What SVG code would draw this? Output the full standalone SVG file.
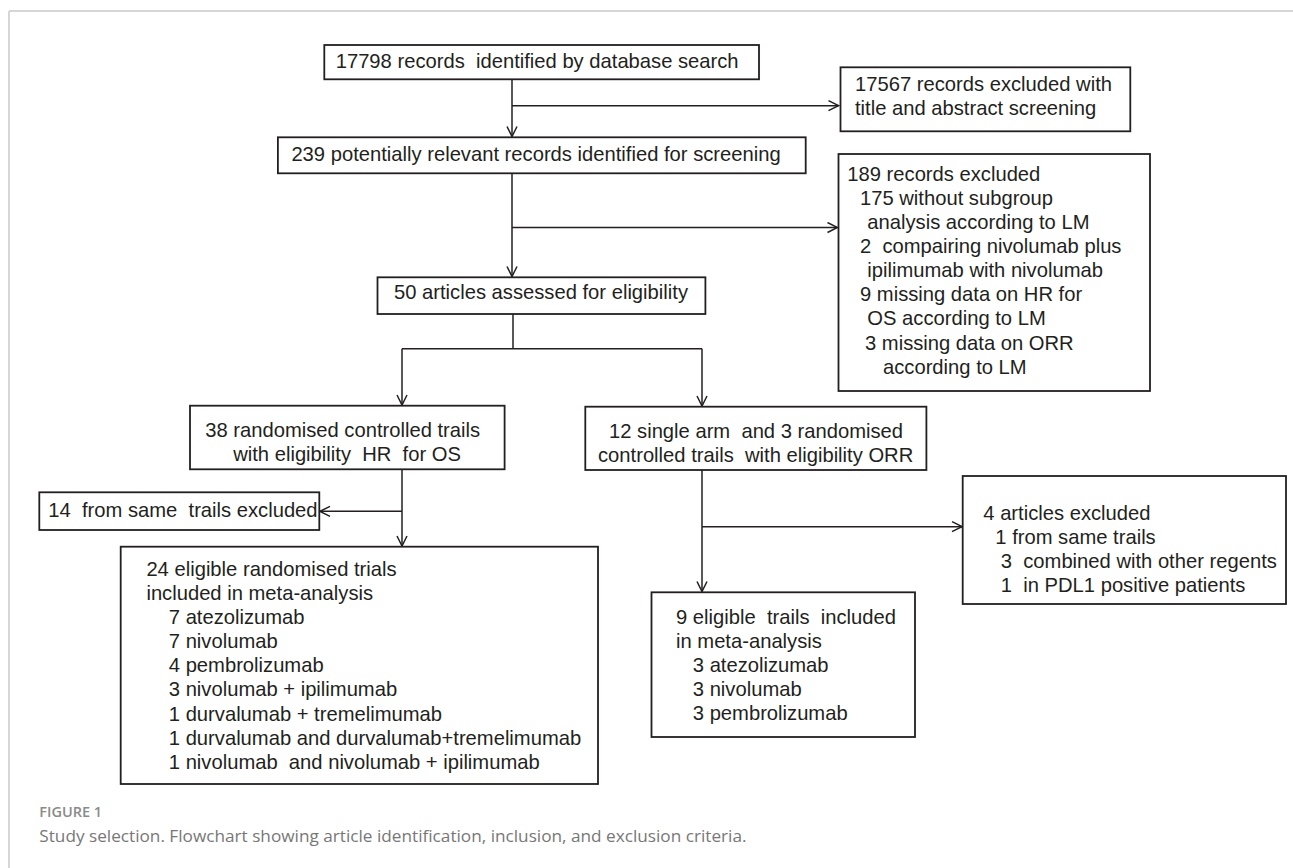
<svg xmlns="http://www.w3.org/2000/svg" width="1293" height="868" viewBox="0 0 1293 868">
<style>
.box{fill:#fff;stroke:#231f20;stroke-width:1.8}
.t{font-family:"Liberation Sans",Arial,sans-serif;font-size:20.2px;fill:#231f20}
.ln{fill:none;stroke:#231f20;stroke-width:1.5}
.arr{marker-end:url(#ah)}
.fig{font-family:"Open Sans","Liberation Sans",sans-serif;font-size:14.5px;font-weight:600;fill:#8a8a8a}
.cap{font-family:"Open Sans","Liberation Sans",sans-serif;font-size:17.2px;fill:#777}
</style>
<defs>
<marker id="ah" viewBox="0 0 12 12" refX="11" refY="6" markerWidth="12" markerHeight="12" markerUnits="userSpaceOnUse" orient="auto">
<path d="M1,1 L11,6 L1,11" fill="none" stroke="#231f20" stroke-width="1.5"/>
</marker>
</defs>
<rect width="1293" height="868" fill="#fff"/>
<g id="frame">
<line x1="9" y1="11" x2="1293" y2="11" stroke="#d6d6d6" stroke-width="2"/>
<line x1="9" y1="11" x2="9" y2="868" stroke="#d6d6d6" stroke-width="2"/>
</g>
<g id="connectors">
<path class="ln arr" d="M512,79 V136.5"/>
<path class="ln arr" d="M512,105.7 H838.5"/>
<path class="ln arr" d="M512,173.3 V276.5"/>
<path class="ln arr" d="M512,227.5 H837.5"/>
<path class="ln" d="M513,314 V348.8"/>
<path class="ln" d="M402,348.8 H702"/>
<path class="ln arr" d="M402,348.8 V405"/>
<path class="ln arr" d="M702,348.8 V406"/>
<path class="ln arr" d="M402,469.3 V546"/>
<path class="ln arr" d="M402,511.3 H320"/>
<path class="ln arr" d="M702,470 V591.5"/>
<path class="ln arr" d="M702,526.7 H962"/>
</g>
<g id="n1">
<rect class="box" x="324.3" y="45" width="434.7" height="34.3"/>
<text class="t" x="335.7" y="67.7" xml:space="preserve">17798 records  identified by database search</text>
</g>
<g id="n2">
<rect class="box" x="840.5" y="67.3" width="289.8" height="64"/>
<text class="t" x="855" y="91.2">17567 records excluded with</text>
<text class="t" x="855" y="115.2">title and abstract screening</text>
</g>
<g id="n3">
<rect class="box" x="277.9" y="137.3" width="527.8" height="36"/>
<text class="t" x="291.4" y="161.2">239 potentially relevant records identified for screening</text>
</g>
<g id="n4">
<rect class="box" x="838.5" y="154" width="311.5" height="237"/>
<text class="t" x="847.3" y="180.5">189 records excluded</text>
<text class="t" x="860" y="204.6">175 without subgroup</text>
<text class="t" x="867.3" y="228.8">analysis according to LM</text>
<text class="t" x="860" y="253" xml:space="preserve">2  compairing nivolumab plus</text>
<text class="t" x="867.3" y="277.1">ipilimumab with nivolumab</text>
<text class="t" x="860" y="301.2">9 missing data on HR for</text>
<text class="t" x="867.3" y="325.4">OS according to LM</text>
<text class="t" x="865" y="349.5">3 missing data on ORR</text>
<text class="t" x="883" y="373.7">according to LM</text>
</g>
<g id="n5">
<rect class="box" x="377.5" y="277.3" width="327.9" height="36.7"/>
<text class="t" x="394" y="298.5">50 articles assessed for eligibility</text>
</g>
<g id="n6">
<rect class="box" x="190" y="405.7" width="314.6" height="63.6"/>
<text class="t" x="205.2" y="436.5">38 randomised controlled trails</text>
<text class="t" x="233.2" y="460.5" xml:space="preserve">with eligibility  HR  for OS</text>
</g>
<g id="n7">
<rect class="box" x="585.3" y="406.7" width="341.1" height="63.3"/>
<text class="t" x="609" y="437.7" xml:space="preserve">12 single arm  and 3 randomised</text>
<text class="t" x="598" y="461.7" xml:space="preserve">controlled trails  with eligibility ORR</text>
</g>
<g id="n8">
<rect class="box" x="39.3" y="492.3" width="280" height="37.7"/>
<text class="t" x="48.3" y="517.3" xml:space="preserve">14  from same  trails excluded</text>
</g>
<g id="n9">
<rect class="box" x="962.7" y="476" width="323.3" height="128"/>
<text class="t" x="983.3" y="520">4 articles excluded</text>
<text class="t" x="995.3" y="544.1">1 from same trails</text>
<text class="t" x="1000.8" y="568.2" xml:space="preserve">3  combined with other regents</text>
<text class="t" x="1000.8" y="592.3" xml:space="preserve">1  in PDL1 positive patients</text>
</g>
<g id="n10">
<rect class="box" x="120.7" y="546.7" width="477.3" height="237.3"/>
<text class="t" x="146.4" y="576">24 eligible randomised trials</text>
<text class="t" x="146.4" y="600">included in meta-analysis</text>
<text class="t" x="168.8" y="624">7 atezolizumab</text>
<text class="t" x="168.8" y="648">7 nivolumab</text>
<text class="t" x="168.8" y="672.2">4 pembrolizumab</text>
<text class="t" x="168.8" y="696.4">3 nivolumab + ipilimumab</text>
<text class="t" x="168.8" y="720.6">1 durvalumab + tremelimumab</text>
<text class="t" x="168.8" y="744.8">1 durvalumab and durvalumab+tremelimumab</text>
<text class="t" x="168.8" y="769" xml:space="preserve">1 nivolumab  and nivolumab + ipilimumab</text>
</g>
<g id="n11">
<rect class="box" x="651.5" y="592.3" width="263.5" height="144.7"/>
<text class="t" x="676" y="624.3" xml:space="preserve">9 eligible  trails  included</text>
<text class="t" x="676" y="647.8">in meta-analysis</text>
<text class="t" x="692.8" y="671.8">3 atezolizumab</text>
<text class="t" x="692.8" y="695.8">3 nivolumab</text>
<text class="t" x="692.8" y="719.8">3 pembrolizumab</text>
</g>
<g id="caption">
<text class="fig" x="39.3" y="816.7">FIGURE 1</text>
<text class="cap" x="39.3" y="841.7">Study selection. Flowchart showing article identification, inclusion, and exclusion criteria.</text>
</g>
</svg>
